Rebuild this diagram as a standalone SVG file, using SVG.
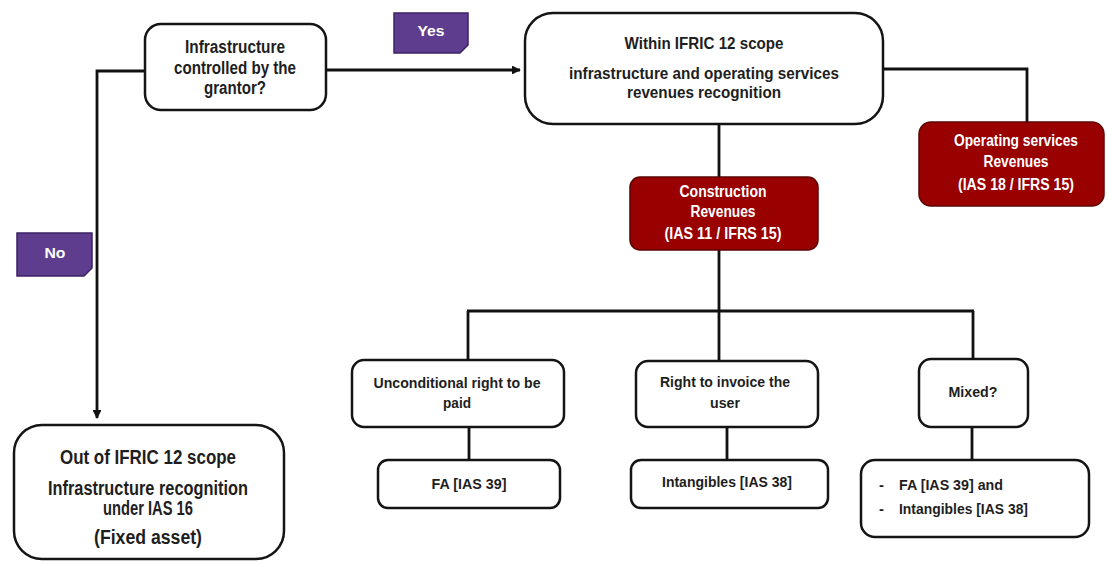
<svg xmlns="http://www.w3.org/2000/svg" width="1110" height="563" viewBox="0 0 1110 563">
<defs>
<marker id="arr" viewBox="0 0 10 10" refX="9" refY="5" markerWidth="3.2" markerHeight="3.2" orient="auto" markerUnits="strokeWidth">
<path d="M0,0 L10,5 L0,10 z" fill="#111"/>
</marker>
<style>
.box{fill:#fff;stroke:#141414;stroke-width:2.5}
.red{fill:#990000;stroke:#5c0505;stroke-width:1.5}
.tag{fill:#5f3d8e;stroke:#3c2266;stroke-width:1.5}
.t{font-family:"Liberation Sans",Arial,sans-serif;font-weight:bold;fill:#1e1e1e;text-anchor:middle}
.w{fill:#fff}
.l{text-anchor:start}
.c{fill:none;stroke:#111;stroke-width:2.8}
</style>
</defs>
<rect width="1110" height="563" fill="#fff"/>

<g id="connectors">
<polyline class="c" points="145,71 97,71 97,418" marker-end="url(#arr)"/>
<polyline class="c" points="326,70 520,70" marker-end="url(#arr)"/>
<polyline class="c" points="883,69 1027,69 1027,122"/>
<line class="c" x1="719" y1="124" x2="719" y2="177"/>
<line class="c" x1="719" y1="250" x2="719" y2="311"/>
<line class="c" x1="467" y1="311" x2="974" y2="311"/>
<line class="c" x1="468" y1="311" x2="468" y2="360"/>
<line class="c" x1="719" y1="311" x2="719" y2="361"/>
<line class="c" x1="973" y1="311" x2="973" y2="359"/>
<line class="c" x1="469" y1="427" x2="469" y2="460"/>
<line class="c" x1="727" y1="427" x2="727" y2="460"/>
<line class="c" x1="972" y1="427" x2="972" y2="460"/>
</g>

<g id="label-yes">
<polygon class="tag" points="394,13 468,13 468,45 460,53 394,53"/>
<text class="t w" x="431" y="36" font-size="15" textLength="27" lengthAdjust="spacingAndGlyphs">Yes</text>
</g>
<g id="label-no">
<polygon class="tag" points="17,233 92,233 92,268 84,276 17,276"/>
<text class="t w" x="55" y="258" font-size="15" textLength="21" lengthAdjust="spacingAndGlyphs">No</text>
</g>

<g id="node-decision">
<rect class="box" x="145" y="24" width="181" height="86" rx="16"/>
<text class="t" x="235" y="53" font-size="17.5" textLength="100" lengthAdjust="spacingAndGlyphs">Infrastructure</text>
<text class="t" x="235" y="74" font-size="17.5" textLength="122" lengthAdjust="spacingAndGlyphs">controlled by the</text>
<text class="t" x="235" y="94" font-size="17.5" textLength="62" lengthAdjust="spacingAndGlyphs">grantor?</text>
</g>

<g id="node-within">
<rect class="box" x="525" y="13" width="358" height="111" rx="28"/>
<text class="t" x="704" y="49" font-size="16.5" textLength="159" lengthAdjust="spacingAndGlyphs">Within IFRIC 12 scope</text>
<text class="t" x="704" y="79" font-size="16.5" textLength="270" lengthAdjust="spacingAndGlyphs">infrastructure and operating services</text>
<text class="t" x="704" y="98" font-size="16.5" textLength="154" lengthAdjust="spacingAndGlyphs">revenues recognition</text>
</g>

<g id="node-operating">
<rect class="red" x="919" y="122" width="185" height="84" rx="12"/>
<text class="t w" x="1016" y="146" font-size="16" textLength="124" lengthAdjust="spacingAndGlyphs">Operating services</text>
<text class="t w" x="1016" y="167" font-size="16" textLength="65" lengthAdjust="spacingAndGlyphs">Revenues</text>
<text class="t w" x="1016" y="190" font-size="16" textLength="116" lengthAdjust="spacingAndGlyphs">(IAS 18 / IFRS 15)</text>
</g>

<g id="node-construction">
<rect class="red" x="630" y="177" width="188" height="73" rx="10"/>
<text class="t w" x="723" y="197" font-size="16" textLength="87" lengthAdjust="spacingAndGlyphs">Construction</text>
<text class="t w" x="723" y="217" font-size="16" textLength="65" lengthAdjust="spacingAndGlyphs">Revenues</text>
<text class="t w" x="723" y="239" font-size="16" textLength="117" lengthAdjust="spacingAndGlyphs">(IAS 11 / IFRS 15)</text>
</g>

<g id="node-out">
<rect class="box" x="14" y="425" width="270" height="134" rx="28"/>
<text class="t" x="148" y="464" font-size="19.5" textLength="176" lengthAdjust="spacingAndGlyphs">Out of IFRIC 12 scope</text>
<text class="t" x="148" y="495" font-size="19.5" textLength="200" lengthAdjust="spacingAndGlyphs">Infrastructure recognition</text>
<text class="t" x="148" y="515" font-size="19.5" textLength="90" lengthAdjust="spacingAndGlyphs">under IAS 16</text>
<text class="t" x="148" y="544" font-size="19.5" textLength="108" lengthAdjust="spacingAndGlyphs">(Fixed asset)</text>
</g>

<g id="node-unconditional">
<rect class="box" x="352" y="360" width="212" height="67" rx="12"/>
<text class="t" x="457" y="388" font-size="15.5" textLength="167" lengthAdjust="spacingAndGlyphs">Unconditional right to be</text>
<text class="t" x="457" y="408" font-size="15.5" textLength="28" lengthAdjust="spacingAndGlyphs">paid</text>
</g>

<g id="node-fa">
<rect class="box" x="378" y="460" width="182" height="48" rx="10"/>
<text class="t" x="469" y="489" font-size="15.5" textLength="75" lengthAdjust="spacingAndGlyphs">FA [IAS 39]</text>
</g>

<g id="node-invoice">
<rect class="box" x="636" y="361" width="182" height="66" rx="12"/>
<text class="t" x="725" y="387" font-size="15.5" textLength="130" lengthAdjust="spacingAndGlyphs">Right to invoice the</text>
<text class="t" x="725" y="408" font-size="15.5" textLength="30" lengthAdjust="spacingAndGlyphs">user</text>
</g>

<g id="node-intangibles">
<rect class="box" x="631" y="460" width="197" height="48" rx="10"/>
<text class="t" x="727" y="487" font-size="15.5" textLength="130" lengthAdjust="spacingAndGlyphs">Intangibles [IAS 38]</text>
</g>

<g id="node-mixed">
<rect class="box" x="919" y="359" width="109" height="68" rx="12"/>
<text class="t" x="973" y="397" font-size="15.5" textLength="49" lengthAdjust="spacingAndGlyphs">Mixed?</text>
</g>

<g id="node-mixed-result">
<rect class="box" x="861" y="460" width="228" height="77" rx="14"/>
<text class="t l" x="879" y="490" font-size="15">-</text>
<text class="t l" x="899" y="490" font-size="15.5" textLength="104" lengthAdjust="spacingAndGlyphs">FA [IAS 39] and</text>
<text class="t l" x="879" y="514" font-size="15">-</text>
<text class="t l" x="899" y="514" font-size="15.5" textLength="129" lengthAdjust="spacingAndGlyphs">Intangibles [IAS 38]</text>
</g>
</svg>
